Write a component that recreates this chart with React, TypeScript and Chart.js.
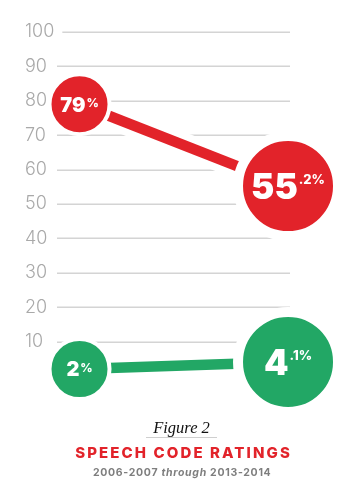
import React, { useEffect, useRef } from "react";
import { Chart, registerables } from "chart.js";

Chart.register(...registerables);

// ---- data ----
const categories = ["2006-2007", "2013-2014"];
const redSeries = [79, 55.2];
const greenSeries = [2, 4.1];
const yTickValues = [10, 20, 30, 40, 50, 60, 70, 80, 90, 100];

// ---- styles ----
const RED = "#e2232a";
const GREEN = "#22a765";
const GRID = "#d4d4d4";
const TICK = "#a9a9a9";
const POINT_RADIUS = [30, 50];
const POINT_HALO = [4, 10];
const LABEL_MAIN_SIZE = [20, 35];
const LABEL_SUP_SIZE = [12, 13];

function splitValue(v: number) {
  const s = String(v);
  const dot = s.indexOf(".");
  if (dot < 0) return { main: s, sup: "%" };
  return { main: s.slice(0, dot), sup: s.slice(dot) + "%" };
}

const gridPlugin = {
  id: "customGrid",
  beforeDatasetsDraw(chart: any) {
    const { ctx, chartArea } = chart;
    const y = chart.scales.y;
    const tickFont = "300 18px Inter";
    ctx.save();
    ctx.font = tickFont;
    ctx.strokeStyle = GRID;
    ctx.lineWidth = 1.5;
    yTickValues.forEach((v) => {
      const py = Math.round(y.getPixelForValue(v)) + 0.25;
      const w = ctx.measureText(String(v)).width;
      const start = Math.max(chartArea.left, y.left + w + 8);
      ctx.beginPath();
      ctx.moveTo(start, py);
      ctx.lineTo(chartArea.right, py);
      ctx.stroke();
    });
    ctx.restore();
  },
};

const labelPlugin = {
  id: "bubbleLabels",
  afterDatasetsDraw(chart: any) {
    const { ctx } = chart;
    ctx.save();
    ctx.fillStyle = "#ffffff";
    ctx.textBaseline = "alphabetic";
    ctx.textAlign = "left";
    chart.data.datasets.forEach((ds: any, di: number) => {
      if (!ds.bubbleLabels) return;
      const meta = chart.getDatasetMeta(di);
      meta.data.forEach((pt: any, i: number) => {
        const { main, sup } = splitValue(ds.data[i].y);
        const mSize = LABEL_MAIN_SIZE[i];
        const sSize = LABEL_SUP_SIZE[i];
        ctx.font = `900 ${mSize}px Inter`;
        const mw = ctx.measureText(main).width;
        ctx.font = `800 ${sSize}px Inter`;
        const sw = ctx.measureText(sup).width;
        const gap = 1;
        const total = mw + gap + sw;
        const x0 = pt.x - total / 2;
        const capM = mSize * 0.727;
        const base = pt.y + capM / 2;
        ctx.font = `900 ${mSize}px Inter`;
        ctx.fillText(main, x0, base);
        ctx.font = `800 ${sSize}px Inter`;
        const capTop = base - capM;
        ctx.fillText(sup, x0 + mw + gap, capTop + sSize * 0.727 + 1);
      });
    });
    ctx.restore();
  },
};

function toPoints(values: number[]) {
  return values.map((v, i) => ({ x: i, y: v, label: categories[i] }));
}

function ChartCanvas() {
  const ref = useRef<HTMLCanvasElement | null>(null);
  useEffect(() => {
    if (!ref.current) return;
    const chart = new Chart(ref.current, {
      type: "line",
      data: {
        datasets: [
          {
            data: toPoints(redSeries),
            borderColor: "#ffffff",
            borderWidth: 25,
            pointRadius: 0,
            order: 3,
            clip: false,
          } as any,
          {
            data: toPoints(redSeries),
            borderColor: RED,
            borderWidth: 10.5,
            pointRadius: POINT_RADIUS,
            pointBorderWidth: POINT_HALO,
            pointBackgroundColor: RED,
            pointBorderColor: "#ffffff",
            pointHoverRadius: POINT_RADIUS,
            order: 1,
            clip: false,
            bubbleLabels: true,
          } as any,
          {
            data: toPoints(greenSeries),
            borderColor: "#ffffff",
            borderWidth: 25,
            pointRadius: 0,
            order: 3,
            clip: false,
          } as any,
          {
            data: toPoints(greenSeries),
            borderColor: GREEN,
            borderWidth: 10.5,
            pointRadius: POINT_RADIUS,
            pointBorderWidth: POINT_HALO,
            pointBackgroundColor: GREEN,
            pointBorderColor: "#ffffff",
            pointHoverRadius: POINT_RADIUS,
            order: 1,
            clip: false,
            bubbleLabels: true,
          } as any,
        ],
      },
      options: {
        responsive: false,
        animation: false,
        events: [],
        layout: {
          autoPadding: false,
          padding: { left: 25, right: 65, top: 32, bottom: 44 },
        },
        plugins: {
          legend: { display: false },
          tooltip: { enabled: false },
          title: { display: false },
        },
        scales: {
          x: {
            type: "linear",
            display: false,
            min: -0.108,
            max: 1.0095,
          },
          y: {
            type: "linear",
            min: 0,
            max: 100,
            afterFit: (scale: any) => {
              scale.width = 32;
            },
            grid: { display: false },
            border: { display: false },
            ticks: {
              stepSize: 10,
              padding: 0,
              crossAlign: "far",
              color: TICK,
              font: { family: "Inter", size: 18, weight: "300" as any },
              callback: (v: any) => (yTickValues.includes(Number(v)) ? String(v) : ""),
            },
          },
        },
      } as any,
      plugins: [gridPlugin, labelPlugin],
    });
    return () => chart.destroy();
  }, []);
  return (
    <canvas
      ref={ref}
      width={355}
      height={420}
      style={{ display: "block", width: 355, height: 420 }}
    />
  );
}

export default function App() {
  const center: React.CSSProperties = {
    position: "absolute",
    left: 0,
    width: 363,
    textAlign: "center",
    whiteSpace: "nowrap",
  };
  return (
    <div
      style={{
        position: "fixed",
        left: 0,
        top: 0,
        width: 355,
        height: 502,
        background: "#ffffff",
        overflow: "hidden",
      }}
    >
      <ChartCanvas />
      <div
        style={{
          ...center,
          top: 420,
          fontFamily: '"Liberation Serif", serif',
          fontStyle: "italic",
          fontSize: 16.5,
          lineHeight: "16px",
          color: "#111111",
        }}
      >
        Figure 2
      </div>
      <div
        style={{
          position: "absolute",
          top: 437,
          left: 146,
          width: 71,
          height: 1,
          background: "#cfcfcf",
        }}
      />
      <div
        style={{
          ...center,
          top: 445,
          fontFamily: "Inter, sans-serif",
          fontWeight: 800,
          fontSize: 15,
          lineHeight: "15px",
          letterSpacing: "2.1px",
          paddingLeft: 2.1,
          color: RED,
        }}
      >
        SPEECH CODE RATINGS
      </div>
      <div
        style={{
          ...center,
          top: 466.5,
          fontFamily: "Inter, sans-serif",
          fontWeight: 700,
          fontSize: 10.5,
          lineHeight: "11px",
          letterSpacing: "0.7px",
          paddingLeft: 0.7,
          color: "#7e7e7e",
        }}
      >
        {categories[0]} <i>through</i> {categories[1]}
      </div>
    </div>
  );
}
